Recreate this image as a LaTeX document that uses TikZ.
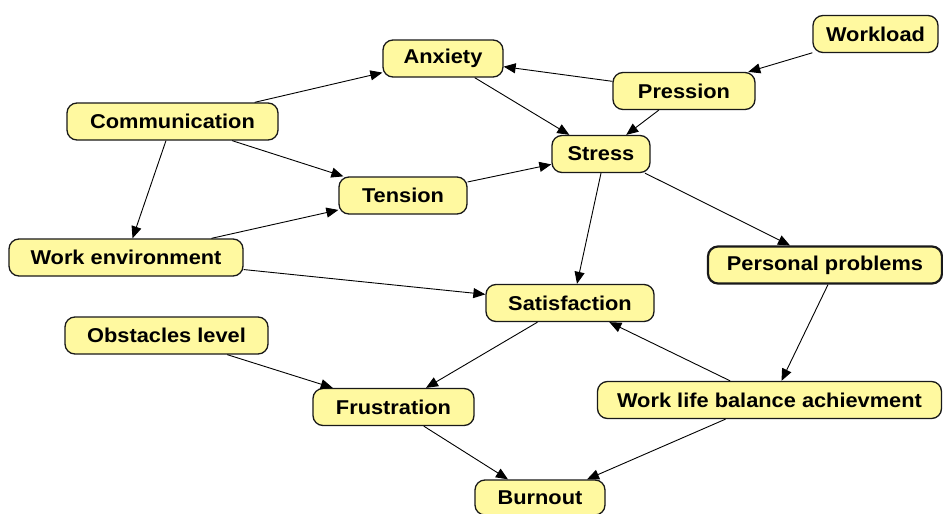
\documentclass[tikz,border=0pt]{standalone}
\usepackage{fontspec}
\setmainfont{Liberation Sans}[FakeStretch=1.09]
\usetikzlibrary{arrows.meta}
\definecolor{boxfill}{RGB}{255,249,160}
\definecolor{boxline}{RGB}{25,25,25}
\tikzset{
  box/.style={draw=boxline, line width=1.3pt, fill=boxfill, rounded corners=10pt,
    minimum height=37pt, inner sep=0pt, font=\fontsize{20}{24}\selectfont\bfseries},
  link/.style={draw=black, line width=0.9pt, -{Triangle[length=12pt,width=10pt]}}
}
\begin{document}
\begin{tikzpicture}[x=1pt,y=-1pt]
\useasboundingbox (0,0) rectangle (943,514);
\node[box, minimum width=120pt] (anx) at (443,58.5) {Anxiety};
\node[box, minimum width=125pt] (wl) at (875.5,34) {Workload};
\node[box, minimum width=142pt] (pre) at (684,91) {Pression};
\node[box, minimum width=211pt] (com) at (172.5,121.5) {Communication};
\node[box, minimum width=98pt] (str) at (601,154) {Stress};
\node[box, minimum width=128pt] (ten) at (403,195.5) {Tension};
\node[box, minimum width=234pt] (env) at (126,257.5) {Work environment};
\node[box, minimum width=234pt, line width=2.2pt] (pp) at (825,265) {Personal problems};
\node[box, minimum width=168pt] (sat) at (570,303) {Satisfaction};
\node[box, minimum width=203pt] (obs) at (166.5,335.5) {Obstacles level};
\node[box, minimum width=161pt] (fru) at (393.5,407) {Frustration};
\node[box, minimum width=344pt] (wlb) at (769.5,400) {Work life balance achievment};
\node[box, minimum width=130pt, minimum height=35pt] (bur) at (540,497.5) {Burnout};

\draw[link] (com) -- (anx);
\draw[link] (com) -- (ten);
\draw[link] (com) -- (env);
\draw[link] (env) -- (ten);
\draw[link] (env) -- (sat);
\draw[link] (anx) -- (str);
\draw[link] (pre) -- (anx);
\draw[link] (pre) -- (str);
\draw[link] (wl) -- (pre);
\draw[link] (ten) -- (str);
\draw[link] (str.south) -- ([xshift=7pt]sat.north);
\draw[link] ([xshift=44pt]str.south) -- ([xshift=-35pt]pp.north);
\draw[link] ([xshift=3pt]pp.south) -- ([xshift=12pt]wlb.north);
\draw[link] (wlb) -- (sat);
\draw[link] (sat) -- (fru);
\draw[link] (obs) -- (fru);
\draw[link] (fru) -- ([xshift=-32pt]bur.north);
\draw[link] (wlb) -- ([xshift=47pt]bur.north);
\end{tikzpicture}
\end{document}
